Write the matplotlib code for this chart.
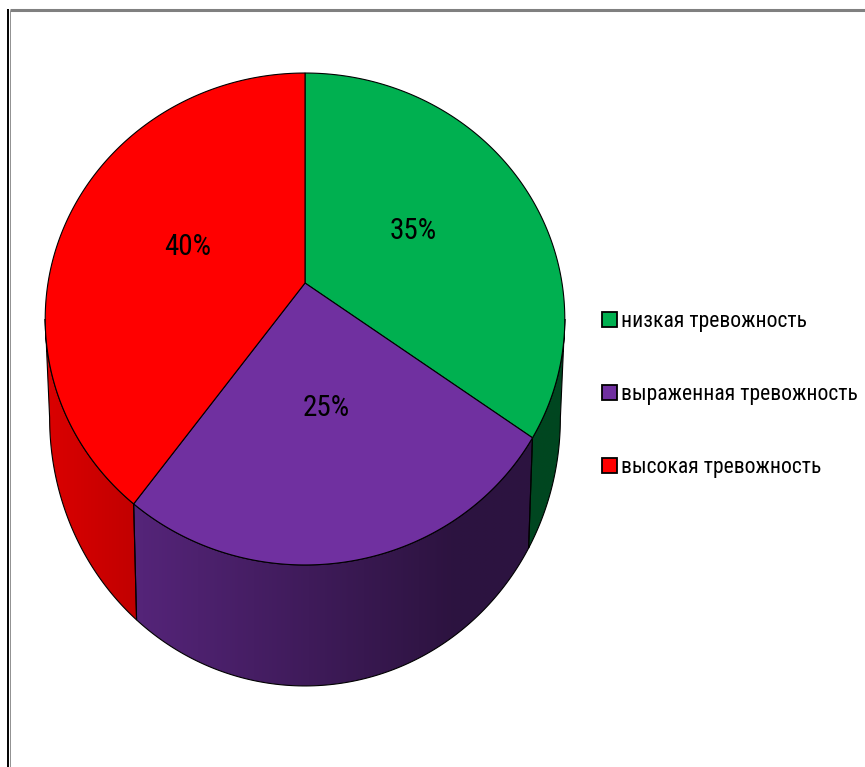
import numpy as np
import matplotlib
matplotlib.use("Agg")
import matplotlib.pyplot as plt
from matplotlib import font_manager
from matplotlib.patches import Polygon, Patch
from matplotlib.colors import to_rgb

# dados do gráfico
categorias = ["низкая тревожность", "выраженная тревожность", "высокая тревожность"]
valores = [35, 25, 40]
rotulos = ["35%", "25%", "40%"]
cores = ["#00B050", "#7030A0", "#FF0000"]

# fonte estreita, se houver alguma instalada
candidatas = ["Liberation Sans Narrow", "Roboto Condensed", "DejaVu Sans Condensed",
              "Noto Sans Condensed", "Open Sans Condensed", "Noto Sans", "DejaVu Sans"]
escolhida = "DejaVu Sans"
for nome in candidatas:
    try:
        font_manager.findfont(font_manager.FontProperties(family=nome, stretch="condensed"),
                              fallback_to_default=False)
        escolhida = nome
        break
    except ValueError:
        pass
FONTE = [escolhida, "DejaVu Sans"]

W, H = 865, 767
fig = plt.figure(figsize=(W / 100, H / 100), dpi=100)
ax = fig.add_axes([0, 0, 1, 1])
ax.axis("off")

# geometria da torta 3D (perspectiva aproximada)
cx, cy = 305, 283
A, B, c = 257, 240.7, 0.1463
prof0, prof1, enc = 95, 26, 0.983


def topo(t, r=1.0):
    u, v = r * np.cos(t), r * np.sin(t)
    w = 1 + c * v
    return cx + A * u / w, cy - B * v / w


def base(t):
    x, y = topo(t)
    return cx + enc * (x - cx), y + prof0 - prof1 * np.sin(t)


def fator(x):
    return np.clip(0.86 - 0.00113 * (x - 45), 0.40, 1.0)


fracs = np.array(valores, dtype=float) / sum(valores)
bordas = 90 - 360 * np.concatenate([[0], np.cumsum(fracs)])

# janela visível da lateral (frente do cilindro)
w0 = 180 + np.degrees(np.arcsin(c))
w1 = 360 - np.degrees(np.arcsin(c))

# laterais com gradiente
for i, cor in enumerate(cores):
    lo, hi = bordas[i + 1], bordas[i]
    for k in (-360, 0, 360):
        a, b = max(lo + k, w0), min(hi + k, w1)
        if b <= a:
            continue
        ts = np.radians(np.linspace(a, b, 120))
        xt, yt = topo(ts)
        xb, yb = base(ts)
        pts = np.column_stack([np.concatenate([xt, xb[::-1]]),
                               np.concatenate([yt, yb[::-1]])])
        poly = Polygon(pts, closed=True, facecolor="none", edgecolor="black",
                       lw=0.8, zorder=2, transform=ax.transData)
        ax.add_patch(poly)
        x0, x1 = pts[:, 0].min(), pts[:, 0].max()
        y0, y1 = pts[:, 1].min(), pts[:, 1].max()
        xs = np.linspace(x0, x1, 300)
        rgb = np.array(to_rgb(cor))[None, :] * fator(xs)[:, None]
        im = ax.imshow(rgb[None, :, :], extent=[x0, x1, y1, y0],
                       aspect="auto", zorder=1, interpolation="bilinear")
        im.set_clip_path(poly)

# faces superiores
for i, cor in enumerate(cores):
    ts = np.radians(np.linspace(bordas[i], bordas[i + 1], 200))
    xt, yt = topo(ts)
    pts = np.column_stack([np.concatenate([[cx], xt]), np.concatenate([[cy], yt])])
    ax.add_patch(Polygon(pts, closed=True, facecolor=cor, edgecolor="black",
                         lw=0.8, zorder=3))

# tamanho das fontes ajustado à largura do texto da legenda (~236 px)
ax.set_xlim(0, W)
ax.set_ylim(H, 0)
rend = fig.canvas.get_renderer()
teste = ax.text(0, 0, max(categorias, key=len), fontsize=17, family=FONTE)
larg = teste.get_window_extent(rend).width
teste.remove()
fs_leg = 17 * 236 / larg
fs_pct = 21

for i in range(len(valores)):
    meio = np.radians((bordas[i] + bordas[i + 1]) / 2)
    lx, ly = topo(meio, 0.49)
    ax.text(lx, ly, rotulos[i], ha="center", va="center", fontsize=fs_pct,
            family=FONTE, color="black", zorder=5)

# moldura
ax.plot([10, W], [9.5, 9.5], color="#808080", lw=2.2, zorder=6, solid_capstyle="butt")
ax.plot([8.3, 8.3], [8.5, H], color="black", lw=1.4, zorder=6, solid_capstyle="butt")
ax.plot([10.2, 10.2], [10, H], color="#909090", lw=0.7, zorder=6, solid_capstyle="butt")

# legenda
fs_px = fs_leg * 100 / 72
quad = 15 / fs_px
handles = [Patch(facecolor=cor, edgecolor="black", lw=1.3) for cor in cores]
ax.legend(handles, categorias, loc="center left", bbox_to_anchor=(602 / W, 1 - 394.5 / H),
          frameon=False, prop={"family": FONTE, "size": fs_leg},
          handlelength=quad, handleheight=quad, handletextpad=4 / fs_px,
          labelspacing=74 / fs_px - 1.03, borderpad=0, borderaxespad=0)

ax.set_xlim(0, W)
ax.set_ylim(H, 0)

fig.savefig("out.png", dpi=100, facecolor="white")
